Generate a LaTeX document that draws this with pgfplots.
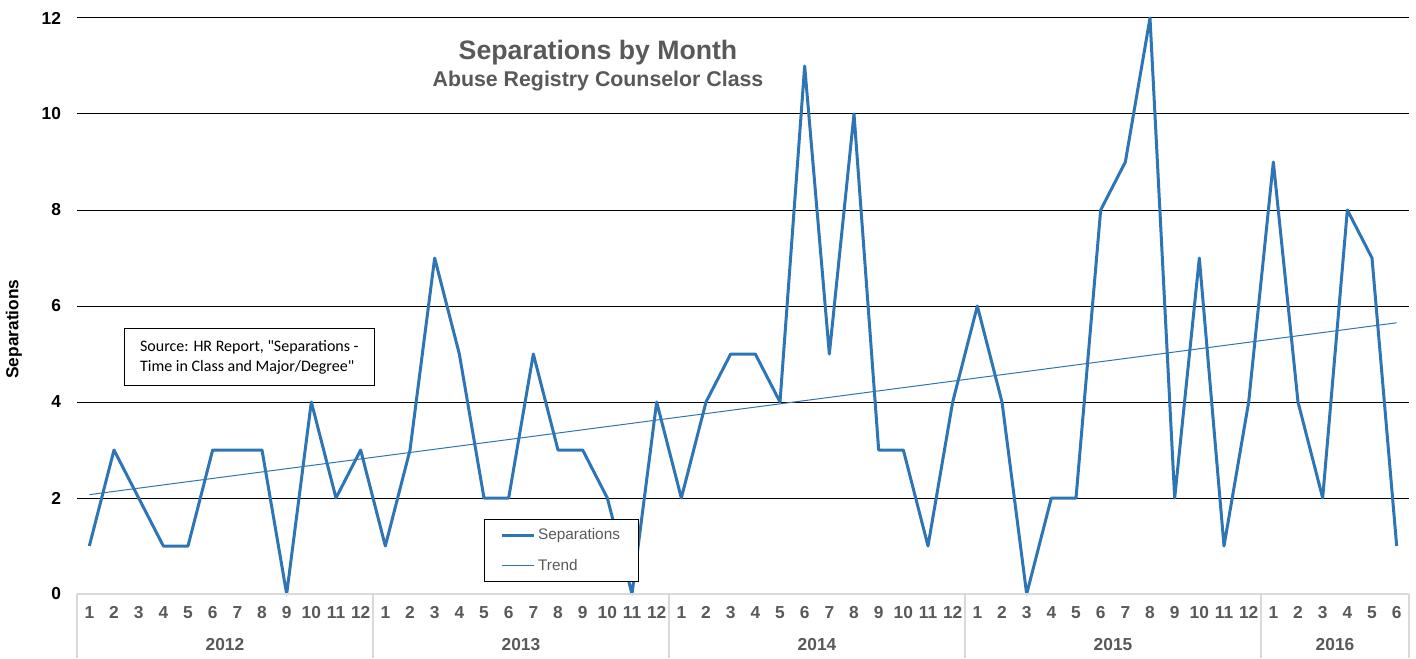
\documentclass[border=0pt]{standalone}
\usepackage{pgfplots}
\pgfplotsset{compat=1.18}
\usepackage{fontspec}
\setmainfont{Liberation Sans}
\newfontfamily\calibri{Carlito}
\definecolor{serblue}{HTML}{2E75B6}
\definecolor{txtgray}{HTML}{595959}
\definecolor{sepgray}{HTML}{D9D9D9}
\begin{document}
\begin{tikzpicture}
\useasboundingbox (0,0) rectangle (1062pt,493.5pt);
\begin{axis}[
  at={(57.75pt,48pt)}, anchor=south west,
  scale only axis, width=999pt, height=432pt,
  xmin=0.5, xmax=54.5, ymin=0, ymax=12,
  clip=false,
  axis line style={draw=none},
  tick style={draw=none},
  xtick={1,...,54},
  xticklabels={1,2,3,4,5,6,7,8,9,10,11,12,1,2,3,4,5,6,7,8,9,10,11,12,1,2,3,4,5,6,7,8,9,10,11,12,1,2,3,4,5,6,7,8,9,10,11,12,1,2,3,4,5,6},
  xticklabel style={font=\fontsize{13}{15}\selectfont\bfseries, text=txtgray, anchor=base, yshift=-18pt},
  ytick={2,4,...,12},
  extra y ticks={0},
  extra y tick style={grid=none},
  ymajorgrids,
  grid style={black, line width=0.75pt},
  yticklabel style={font=\fontsize{13}{15}\selectfont\bfseries, text=black, xshift=-8.5pt},
  /pgf/number format/assume math mode=true,
  ylabel={Separations},
  ylabel style={font=\fontsize{13}{15}\selectfont\bfseries, at={(axis description cs:-0.0473,0.46)}, anchor=center},
  legend style={at={(axis description cs:0.3056,0.1302)}, anchor=north west,
    draw=black, line width=0.6pt, font=\fontsize{11.5}{13}\selectfont, text=txtgray,
    inner xsep=12pt, inner ysep=5pt, row sep=9pt},
  legend cell align=left,
  legend image code/.code={\draw[#1] (0pt,0pt) -- (24pt,0pt);},
]
\addplot[serblue, line width=2.25pt, line join=round] coordinates {
(1,1)(2,3)(3,2)(4,1)(5,1)(6,3)(7,3)(8,3)(9,0)(10,4)(11,2)(12,3)
(13,1)(14,3)(15,7)(16,5)(17,2)(18,2)(19,5)(20,3)(21,3)(22,2)(23,0)(24,4)
(25,2)(26,4)(27,5)(28,5)(29,4)(30,11)(31,5)(32,10)(33,3)(34,3)(35,1)(36,4)
(37,6)(38,4)(39,0)(40,2)(41,2)(42,8)(43,9)(44,12)(45,2)(46,7)(47,1)(48,4)
(49,9)(50,4)(51,2)(52,8)(53,7)(54,1)
};
\addlegendentry{Separations}
\addplot[serblue, line width=0.75pt] coordinates {(1,2.07)(54,5.65)};
\addlegendentry{Trend}
\draw[sepgray, line width=0.9pt] (axis cs:0.5,0) -- (axis cs:54.5,0);
\draw[sepgray, line width=0.9pt] (axis cs:0.5,0) -- ([yshift=-48pt]axis cs:0.5,0);
\draw[sepgray, line width=0.9pt] (axis cs:12.5,0) -- ([yshift=-48pt]axis cs:12.5,0);
\draw[sepgray, line width=0.9pt] (axis cs:24.5,0) -- ([yshift=-48pt]axis cs:24.5,0);
\draw[sepgray, line width=0.9pt] (axis cs:36.5,0) -- ([yshift=-48pt]axis cs:36.5,0);
\draw[sepgray, line width=0.9pt] (axis cs:48.5,0) -- ([yshift=-48pt]axis cs:48.5,0);
\draw[sepgray, line width=0.9pt] (axis cs:54.5,0) -- ([yshift=-48pt]axis cs:54.5,0);
\node[font=\fontsize{13}{15}\selectfont\bfseries, text=txtgray] at ([yshift=-38.25pt]axis cs:6.5,0) {2012};
\node[font=\fontsize{13}{15}\selectfont\bfseries, text=txtgray] at ([yshift=-38.25pt]axis cs:18.5,0) {2013};
\node[font=\fontsize{13}{15}\selectfont\bfseries, text=txtgray] at ([yshift=-38.25pt]axis cs:30.5,0) {2014};
\node[font=\fontsize{13}{15}\selectfont\bfseries, text=txtgray] at ([yshift=-38.25pt]axis cs:42.5,0) {2015};
\node[font=\fontsize{13}{15}\selectfont\bfseries, text=txtgray] at ([yshift=-38.25pt]axis cs:51.5,0) {2016};
\end{axis}
\node[font=\fontsize{20}{24}\selectfont\bfseries, text=txtgray] at (448.5pt,454pt) {Separations by Month};
\node[font=\fontsize{16}{19}\selectfont\bfseries, text=txtgray] at (448.5pt,433pt) {Abuse Registry Counselor Class};
\node[draw=black, line width=0.6pt, anchor=north west, align=left, inner xsep=7pt, inner ysep=5pt,
  font=\calibri\fontsize{12}{15}\selectfont, text=black, minimum width=187.5pt, minimum height=42.75pt]
  at (93pt,247.5pt) {Source: HR Report, "Separations -\\Time in Class and Major/Degree"};
\end{tikzpicture}
\end{document}
